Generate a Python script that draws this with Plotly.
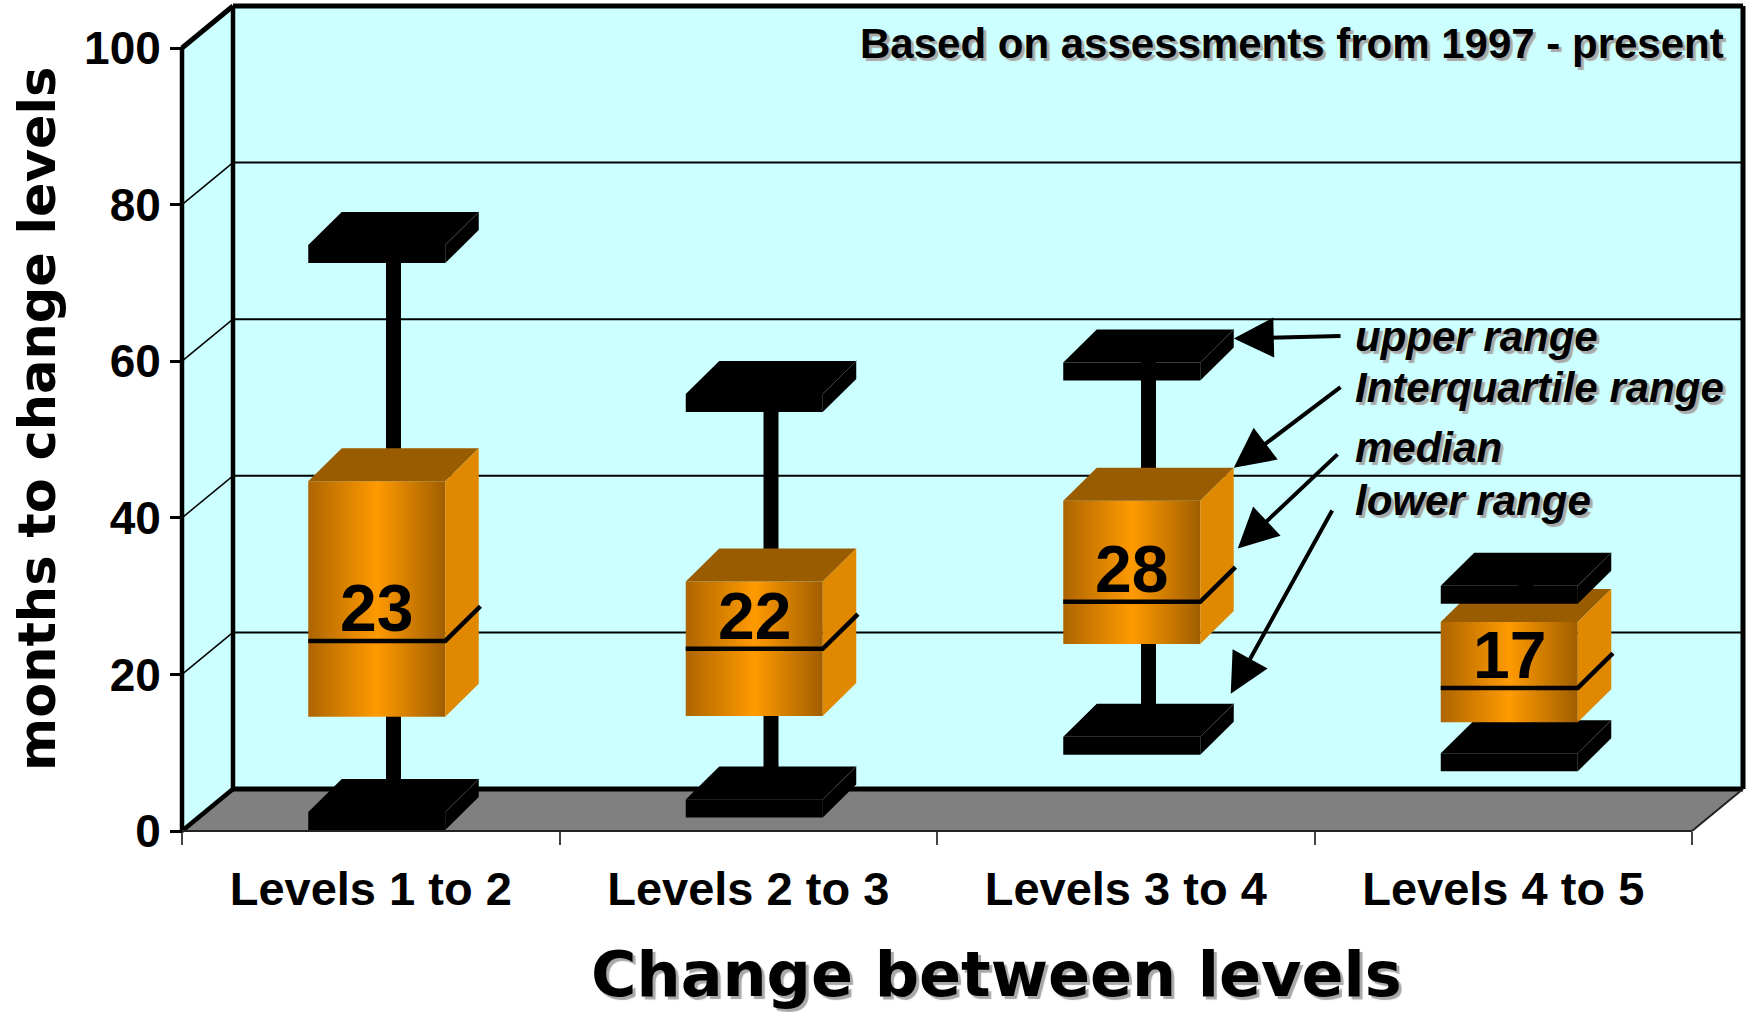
import plotly.graph_objects as go

# ---- data -------------------------------------------------------------
categories = ["Levels 1 to 2", "Levels 2 to 3", "Levels 3 to 4", "Levels 4 to 5"]
upper_range = [72.4, 53.4, 57.4, 28.9]
q3 = [43.4, 30.6, 40.9, 25.4]
median = [23, 22, 28, 17]
q1 = [13.3, 13.4, 22.6, 12.6]
lower_range = [0, 1.6, 9.6, 7.5]
y_ticks = [0, 20, 40, 60, 80, 100]
legend_labels = ["upper range", "Interquartile range", "median", "lower range"]
note = "Based on assessments from 1997 - present"
x_title = "Change between levels"
y_title = "months to change levels"

# ---- page geometry (pixels) ------------------------------------------
W, H = 1754, 1012
ML, MR, MT, MB = 170, 0, 0, 162
X0_PX, Y0_PX = 182, 831          # front-left corner of the floor
PX_PER_CAT = 377.5
PX_PER_VAL = 7.83

plot_w = W - ML - MR
plot_h = H - MT - MB
x_range = [(ML - X0_PX) / PX_PER_CAT, (W - MR - X0_PX) / PX_PER_CAT]
y_range = [(Y0_PX - (H - MB)) / PX_PER_VAL, (Y0_PX - MT) / PX_PER_VAL]


def ux(n):
    return n / PX_PER_CAT


def uy(n):
    return n / PX_PER_VAL


def data_x(px):
    return (px - X0_PX) / PX_PER_CAT


def data_y(py):
    return (Y0_PX - py) / PX_PER_VAL


def paper_x(px):
    return (px - ML) / plot_w


def paper_y(py):
    return (H - MB - py) / plot_h


n_cat = len(categories)
y_top = max(y_ticks)

# depth of the 3-D room
WDX, WDY = ux(51), uy(42)
# box / cap geometry
FACE_W = ux(137)
FRONT_DX, FRONT_DY = ux(6), uy(10)
BDX, BDY = ux(33.5), uy(33)
CAP_H = uy(18)
STEM_W = ux(15)

WALL = "#ccffff"
FLOOR = "#808080"
BOX_GRADIENT = [[0, "#ad6500"], [0.5, "#ff9a00"], [1, "#a05e00"]]
BOX_TOP = "#9a5c00"
BOX_SIDE = "#e08800"

FONT = "Liberation Sans, Arial, sans-serif"
HEAVY = "DejaVu Sans, Verdana, sans-serif"
SHADOW = "3px 3px 1px #a8a8a8"

fig = go.Figure()


def poly(xs, ys, color=None, gradient=None):
    kw = dict(x=list(xs) + [xs[0]], y=list(ys) + [ys[0]], mode="lines",
              line=dict(width=0, color="rgba(0,0,0,0)"), fill="toself",
              hoverinfo="skip", showlegend=False)
    if gradient is not None:
        kw["fillgradient"] = dict(type="horizontal", colorscale=gradient)
    else:
        kw["fillcolor"] = color
    fig.add_trace(go.Scatter(**kw))


def seg(xs, ys, width, color="black"):
    fig.add_trace(go.Scatter(x=xs, y=ys, mode="lines",
                             line=dict(width=width, color=color),
                             hoverinfo="skip", showlegend=False))


def cuboid(xl, xr, yb, yt, front="black", top="black", side="black", gradient=None):
    poly([xl, xr, xr, xl], [yb, yb, yt, yt], color=front, gradient=gradient)
    poly([xl, xr, xr + BDX, xl + BDX], [yt, yt, yt + BDY, yt + BDY], color=top)
    poly([xr, xr + BDX, xr + BDX, xr], [yb, yb + BDY, yt + BDY, yt], color=side)


def stem(sx, y0, y1):
    poly([sx - STEM_W / 2, sx + STEM_W / 2, sx + STEM_W / 2, sx - STEM_W / 2],
         [y0, y0, y1, y1], color="black")


def path(points):
    return "M " + " L ".join(f"{x},{y}" for x, y in points) + " Z"


# ---- room: side wall, back wall, floor --------------------------------
shapes = []
shapes.append(dict(type="path", path=path([(0, 0), (0, y_top), (WDX, y_top + WDY), (WDX, WDY)]),
                   fillcolor=WALL, line=dict(width=0), layer="below"))
shapes.append(dict(type="path", path=path([(WDX, WDY), (n_cat + WDX, WDY),
                                           (n_cat + WDX, y_top + WDY), (WDX, y_top + WDY)]),
                   fillcolor=WALL, line=dict(width=0), layer="below"))
shapes.append(dict(type="path", path=path([(0, 0), (n_cat, 0), (n_cat + WDX, WDY), (WDX, WDY)]),
                   fillcolor=FLOOR, line=dict(width=0), layer="below"))


def line(x0, y0, x1, y1, width, color="black"):
    shapes.append(dict(type="line", x0=x0, y0=y0, x1=x1, y1=y1,
                       line=dict(width=width, color=color), layer="below"))


# gridlines on the side wall and back wall
for v in y_ticks[1:-1]:
    line(0, v, WDX, v + WDY, 1.5)
    line(WDX, v + WDY, n_cat + WDX, v + WDY, 2)

# room edges
line(0, 0, 0, y_top, 4.5)
line(0, y_top, WDX, y_top + WDY, 5)
line(WDX, y_top + WDY, n_cat + WDX, y_top + WDY, 5)
line(n_cat + WDX, y_top + WDY, n_cat + WDX, WDY, 5)
line(WDX, y_top + WDY, WDX, WDY, 4.5)
line(WDX, WDY, n_cat + WDX, WDY, 5)
line(0, 0, WDX, WDY, 4.5)
line(0, 0, n_cat, 0, 2, "#222")
line(n_cat, 0, n_cat + WDX, WDY, 2, "#222")

# ---- the range boxes ---------------------------------------------------
annotations = []
mid = FRONT_DY + BDY / 2          # vertical shift of the box's depth centre
for i in range(n_cat):
    c = i + 0.5
    xl = c + FRONT_DX - FACE_W / 2
    xr = xl + FACE_W
    sx = c + FRONT_DX + BDX / 2

    # whisker stems, centred in depth
    stem(sx, lower_range[i] + mid, q1[i] + mid)
    stem(sx, q3[i] + mid, upper_range[i] + mid)

    # lower range cap
    yb = lower_range[i] + FRONT_DY - CAP_H / 2
    cuboid(xl, xr, yb, yb + CAP_H)
    seg([xr, xr + BDX], [yb + CAP_H, yb + CAP_H + BDY], 1, "#3a3a3a")

    # interquartile box
    cuboid(xl, xr, q1[i] + FRONT_DY, q3[i] + FRONT_DY,
           top=BOX_TOP, side=BOX_SIDE, gradient=BOX_GRADIENT)

    # median line across the front and side faces
    ym = median[i] + FRONT_DY
    seg([xl, xr, xr + BDX * 1.05], [ym, ym, ym + BDY * 1.05], 4.5)

    # upper range cap
    yb = upper_range[i] + FRONT_DY - CAP_H / 2
    cuboid(xl, xr, yb, yb + CAP_H)
    seg([xr, xr + BDX], [yb + CAP_H, yb + CAP_H + BDY], 1, "#3a3a3a")

    annotations.append(dict(x=c + FRONT_DX, y=median[i] + FRONT_DY + uy(33),
                            xref="x", yref="y", text=str(median[i]), showarrow=False,
                            xanchor="center", yanchor="middle",
                            font=dict(family=FONT, size=66, color="black", weight="bold")))

# ---- explanatory labels with arrows (pointing at the Levels 3 to 4 box) ----
k = 2
bx = k + 0.5 + FRONT_DX + FACE_W / 2 + BDX
tips = [
    (bx, upper_range[k] + FRONT_DY + BDY),
    (bx, q3[k] + FRONT_DY + BDY),
    (bx + ux(4), q3[k] + FRONT_DY + BDY - 0.8 * (q3[k] - median[k])),
    (bx - ux(3), lower_range[k] + FRONT_DY + CAP_H / 2 + BDY + uy(10)),
]
tails_px = [(1342, 336), (1342, 386), (1339, 453), (1333, 509)]
text_y_px = [336, 387, 447, 500]
for (tx, ty), (ax_px, ay_px), lab, ly in zip(tips, tails_px, legend_labels, text_y_px):
    annotations.append(dict(x=tx, y=ty, ax=data_x(ax_px), ay=data_y(ay_px),
                            xref="x", yref="y", axref="x", ayref="y", text="",
                            showarrow=True, arrowhead=2, arrowsize=2.0, arrowwidth=4,
                            arrowcolor="black", standoff=0))
    annotations.append(dict(x=data_x(1353), y=data_y(ly), xref="x", yref="y",
                            text=f"<i>{lab}</i>", showarrow=False,
                            xanchor="left", yanchor="middle",
                            font=dict(family=FONT, size=42, color="black",
                                      weight="bold", shadow=SHADOW)))

annotations.append(dict(x=data_x(1726), y=data_y(43), xref="x", yref="y", text=note,
                        showarrow=False, xanchor="right", yanchor="middle",
                        font=dict(family=FONT, size=42, color="black",
                                  weight="bold", shadow=SHADOW)))
annotations.append(dict(x=paper_x(996), y=paper_y(974), xref="paper", yref="paper",
                        text=x_title, showarrow=False, xanchor="center", yanchor="middle",
                        font=dict(family=HEAVY, size=62, color="black",
                                  weight="bold", shadow=SHADOW)))
annotations.append(dict(x=paper_x(37), y=paper_y(419), xref="paper", yref="paper",
                        text=y_title, showarrow=False, xanchor="center", yanchor="middle",
                        textangle=-90,
                        font=dict(family=HEAVY, size=51, color="black", weight="bold")))

fig.update_layout(
    width=W, height=H,
    margin=dict(l=ML, r=MR, t=MT, b=MB, pad=0),
    paper_bgcolor="white", plot_bgcolor="white",
    showlegend=False,
    shapes=shapes,
    annotations=annotations,
    xaxis=dict(range=x_range, showgrid=False, zeroline=False, showline=False,
               tickmode="array", tickvals=[i + 0.5 for i in range(n_cat)],
               ticktext=categories, ticks="",
               tickfont=dict(family=FONT, size=47, color="black", weight="bold"),
               anchor="free", position=(H - MB - Y0_PX) / plot_h,
               ticklabelstandoff=26,
               minor=dict(tickmode="array", tickvals=list(range(n_cat + 1)),
                          ticks="outside", ticklen=13, tickwidth=2, tickcolor="#444")),
    yaxis=dict(range=y_range, showgrid=False, zeroline=False, showline=False,
               tickmode="array", tickvals=y_ticks, ticks="outside",
               ticklen=12, tickwidth=2.5, tickcolor="black",
               tickfont=dict(family=FONT, size=46, color="black", weight="bold"),
               anchor="free", position=(X0_PX - ML) / plot_w),
)

fig.write_html("out.html")
